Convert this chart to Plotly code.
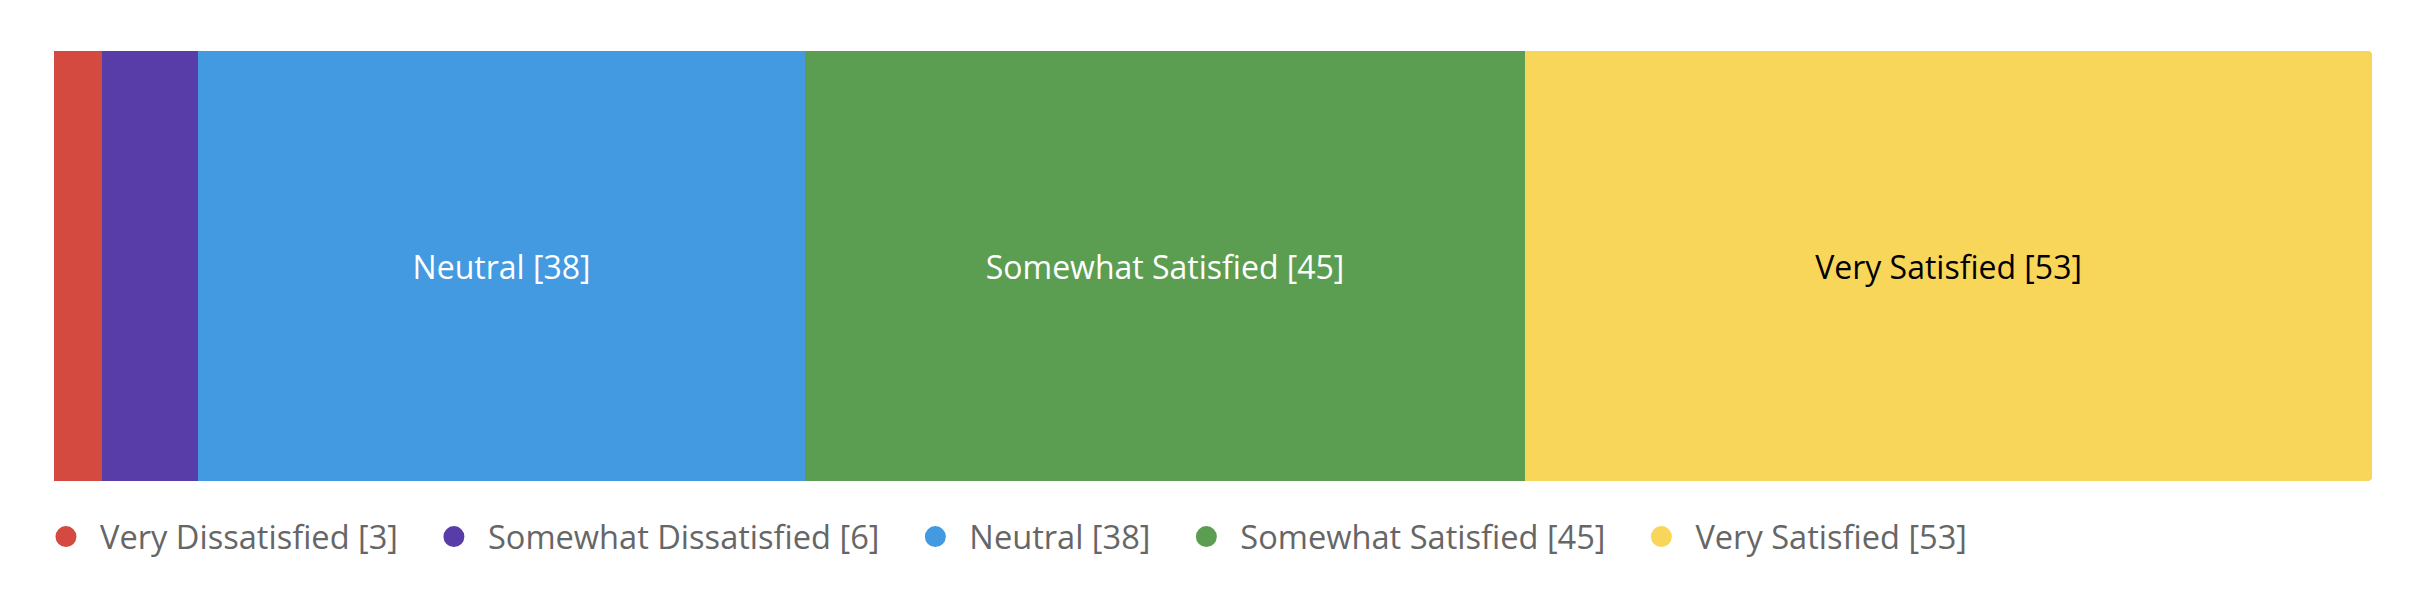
import plotly.graph_objects as go

# satisfaction survey, one stacked bar
categories = ["Very Dissatisfied", "Somewhat Dissatisfied", "Neutral",
              "Somewhat Satisfied", "Very Satisfied"]
counts = [3, 6, 38, 45, 53]
colors = ["#D44A40", "#583DA8", "#439AE0", "#5C9E51", "#F8D65A"]
label_colors = ["white", "white", "white", "white", "black"]

total = sum(counts)
FONT = "Open Sans"
NBSP = "\u00a0"

fig = go.Figure()

for name, n, col, tcol in zip(categories, counts, colors, label_colors):
    label = f"{name} [{n}]"
    fig.add_trace(go.Bar(
        x=[n], y=["survey"], orientation="h",
        marker=dict(color=col, line=dict(width=0)),
        text=[label if n >= 10 else ""],
        textposition="inside", insidetextanchor="middle",
        textfont=dict(family=FONT, size=32, color=tcol),
        constraintext="none",
        showlegend=False, hoverinfo="x+name", name=name,
    ))

# legend entries with round markers (trailing nbsp widens the gap between items)
for name, n, col in zip(categories, counts, colors):
    fig.add_trace(go.Scatter(
        x=[None], y=[None], mode="markers", name=f"{name} [{n}]" + NBSP * 2,
        marker=dict(color=col, size=16, symbol="circle", line=dict(color=col, width=5)),
    ))

fig.update_layout(
    barmode="stack", bargap=0, barcornerradius=4,
    width=2410, height=606,
    margin=dict(l=54, r=38, t=51, b=125),
    plot_bgcolor="white", paper_bgcolor="white",
    font=dict(family=FONT, size=32, color="#666666"),
    xaxis=dict(range=[0, total], visible=False, fixedrange=True),
    yaxis=dict(range=[-0.5, 0.5], visible=False, fixedrange=True),
    legend=dict(orientation="h", x=-0.0095, xanchor="left", y=-0.13, yanchor="middle",
                font=dict(family=FONT, size=32.6, color="#666666"),
                itemwidth=58, traceorder="normal"),
)

fig.write_html("out.html", config={"displayModeBar": False},
               post_script="document.body.style.margin='0px';")
